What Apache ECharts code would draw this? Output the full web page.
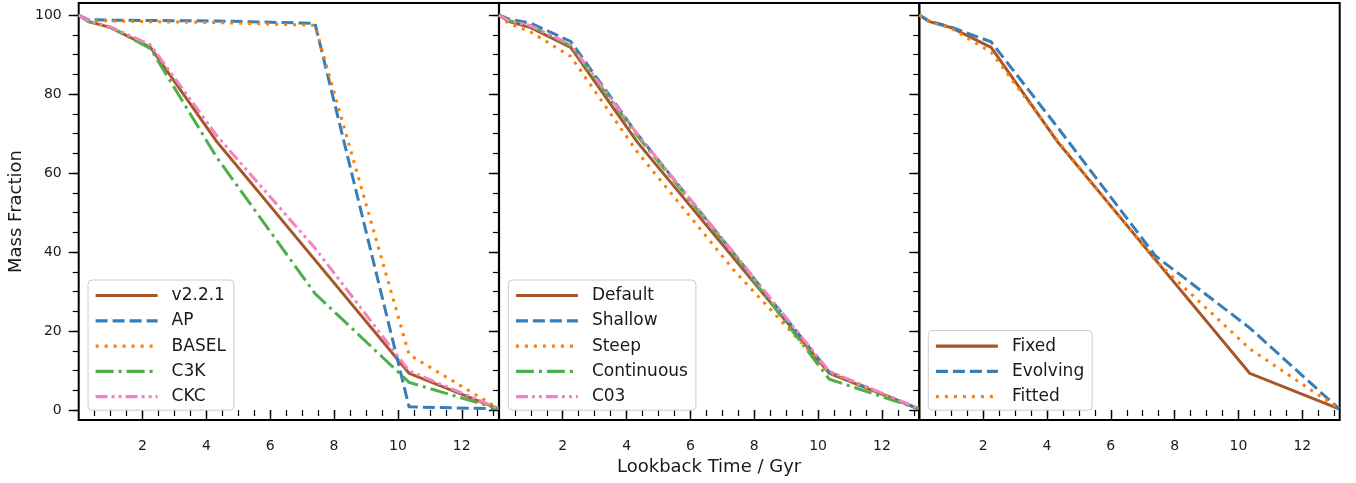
<!DOCTYPE html>
<html>
<head>
<meta charset="utf-8">
<script src="https://cdn.jsdelivr.net/npm/echarts@6/dist/echarts.min.js"></script>
<style>
html,body{margin:0;padding:0;background:#fff;}
#chart{width:1356px;height:483px;}
</style>
</head>
<body>
<div id="chart"></div>
<script>
// ---- data ----
const X_TIME = [0, 0.3, 1.0, 2.25, 4.32, 7.4, 10.35, 13.15];

// panel 1
const V221  = [100, 98.4, 96.8, 91.8, 68.0, 38.0, 9.3, 0.3];
const AP    = [100, 98.8, 98.7, 98.6, 98.5, 97.9, 0.8, 0.3];
const BASEL = [100, 98.6, 98.5, 98.3, 98.1, 97.4, 14.0, 0.4];
const C3K   = [100, 98.3, 96.9, 91.5, 64.0, 29.5, 7.0, 0.3];
const CKC   = [100, 98.5, 97.0, 92.4, 69.5, 41.0, 9.9, 0.4];
// panel 2
const DEFAULT    = [100, 98.4, 96.8, 91.8, 68.0, 38.0, 9.3, 0.3];
const SHALLOW    = [100, 99.0, 97.9, 93.3, 70.0, 39.2, 9.6, 0.3];
const STEEP      = [100, 97.9, 95.7, 89.5, 65.5, 35.0, 9.5, 0.3];
const CONTINUOUS = [100, 98.6, 97.2, 92.2, 69.6, 39.0, 7.8, 0.3];
const C03        = [100, 98.6, 97.3, 92.5, 70.0, 39.4, 9.8, 0.4];
// panel 3
const FIXED    = [100, 98.4, 96.8, 91.8, 68.0, 38.0, 9.3, 0.3];
const EVOLVING = [100, 98.5, 96.9, 93.2, 71.7, 39.0, 20.8, 0.3];
const FITTED   = [100, 98.4, 96.6, 90.6, 68.3, 37.8, 15.5, 0.3];

const X_MAJOR = [2, 4, 6, 8, 10, 12];
const X_MINOR = [0.5,1,1.5,2,2.5,3,3.5,4,4.5,5,5.5,6,6.5,7,7.5,8,8.5,9,9.5,10,10.5,11,11.5,12,12.5,13];
const Y_MAJOR = [0, 20, 40, 60, 80, 100];
const Y_MINOR = [0,5,10,15,20,25,30,35,40,45,50,55,60,65,70,75,80,85,90,95,100];

// ---- styling ----
const FONT = 'DejaVu Sans';
const TXT = '#1a1a1a';
const COL = {brown:'#a65628', blue:'#377eb8', orange:'#ff7f00', green:'#4daf4a', pink:'#f781bf'};
const DASH = {solid:'solid', dashed:[12,5], dotted:[3,6], dashdot:[18,5,3,5], dashdotdot:[12,4,3,4,3,4]};
const LW = 3;

const GRID_LEFT = [78.7, 498.9, 919.3];
const GRID_W = 420.4;
const XMIN = 0, XMAX = 13.17;
const YMIN = -2.53, YMAX = 103.04;

const grids = GRID_LEFT.map(l => ({
  left: l, top: 3, width: GRID_W, height: 417,
  show: true, borderColor: '#000', borderWidth: 2, backgroundColor: 'transparent'
}));

const xAxes = [], yAxes = [];
for (let g = 0; g < 3; g++) {
  xAxes.push({
    type: 'value', gridIndex: g, min: XMIN, max: XMAX, position: 'bottom',
    axisLine: {show: false},
    splitLine: {show: false},
    axisTick: {show: true, inside: false, length: 10, customValues: X_MAJOR, lineStyle: {color: '#000', width: 1.4}},
    axisLabel: {show: true, customValues: X_MAJOR, margin: 19, fontFamily: FONT, fontSize: 14, color: TXT},
    name: g === 1 ? 'Lookback Time / Gyr' : '',
    nameLocation: 'middle', nameGap: 36,
    nameTextStyle: {fontFamily: FONT, fontSize: 18, color: TXT}
  });
  xAxes.push({
    type: 'value', gridIndex: g, min: XMIN, max: XMAX, position: 'bottom',
    axisLine: {show: false}, splitLine: {show: false},
    axisTick: {show: true, inside: false, length: 6, customValues: X_MINOR, lineStyle: {color: '#000', width: 1.2}},
    axisLabel: {show: false}
  });
  yAxes.push({
    type: 'value', gridIndex: g, min: YMIN, max: YMAX, position: 'left',
    axisLine: {show: false}, splitLine: {show: false},
    axisTick: {show: true, inside: false, length: 10, customValues: Y_MAJOR, lineStyle: {color: '#000', width: 1.4}},
    axisLabel: {show: g === 0, customValues: Y_MAJOR, margin: 17, fontFamily: FONT, fontSize: 14, color: TXT},
    name: g === 0 ? 'Mass Fraction' : '',
    nameLocation: 'middle', nameGap: 53,
    nameTextStyle: {fontFamily: FONT, fontSize: 18, color: TXT}
  });
  yAxes.push({
    type: 'value', gridIndex: g, min: YMIN, max: YMAX, position: 'left',
    axisLine: {show: false}, splitLine: {show: false},
    axisTick: {show: true, inside: false, length: 6, customValues: Y_MINOR, lineStyle: {color: '#000', width: 1.2}},
    axisLabel: {show: false}
  });
}

function mk(name, vals, g, color, dash) {
  return {
    name: name, type: 'line', xAxisIndex: g * 2, yAxisIndex: g * 2,
    data: X_TIME.map((x, i) => [x, vals[i]]),
    symbol: 'none', showSymbol: false, silent: true,
    lineStyle: {color: color, width: LW, type: dash, cap: 'butt', join: 'miter'},
    itemStyle: {color: color},
    emphasis: {disabled: true}
  };
}

const series = [
  mk('v2.2.1', V221, 0, COL.brown, DASH.solid),
  mk('AP', AP, 0, COL.blue, DASH.dashed),
  mk('BASEL', BASEL, 0, COL.orange, DASH.dotted),
  mk('C3K', C3K, 0, COL.green, DASH.dashdot),
  mk('CKC', CKC, 0, COL.pink, DASH.dashdotdot),
  mk('Default', DEFAULT, 1, COL.brown, DASH.solid),
  mk('Shallow', SHALLOW, 1, COL.blue, DASH.dashed),
  mk('Steep', STEEP, 1, COL.orange, DASH.dotted),
  mk('Continuous', CONTINUOUS, 1, COL.green, DASH.dashdot),
  mk('C03', C03, 1, COL.pink, DASH.dashdotdot),
  mk('Fixed', FIXED, 2, COL.brown, DASH.solid),
  mk('Evolving', EVOLVING, 2, COL.blue, DASH.dashed),
  mk('Fitted', FITTED, 2, COL.orange, DASH.dotted)
];

function legend(left, top, names) {
  return {
    show: true, orient: 'vertical', left: left, top: top,
    padding: [7, 8, 5, 6], itemWidth: 62, itemHeight: 14, itemGap: 8.3,
    icon: 'inherit',
    itemStyle: {opacity: 0},
    lineStyle: {width: 3.2},
    backgroundColor: 'rgba(255,255,255,0.8)', borderColor: '#cccccc', borderWidth: 1, borderRadius: 4,
    selectedMode: false,
    textStyle: {fontFamily: FONT, fontSize: 17, color: TXT, padding: [0, 0, 0, 9]},
    data: names
  };
}

const chart = echarts.init(document.getElementById('chart'), null, {renderer: 'canvas'});
chart.setOption({
  animation: false,
  backgroundColor: '#fff',
  grid: grids,
  xAxis: xAxes,
  yAxis: yAxes,
  legend: [
    legend(88, 280, ['v2.2.1', 'AP', 'BASEL', 'C3K', 'CKC']),
    legend(508.3, 280, ['Default', 'Shallow', 'Steep', 'Continuous', 'C03']),
    legend(928.3, 330.6, ['Fixed', 'Evolving', 'Fitted'])
  ],
  series: series
});
</script>
</body>
</html>
